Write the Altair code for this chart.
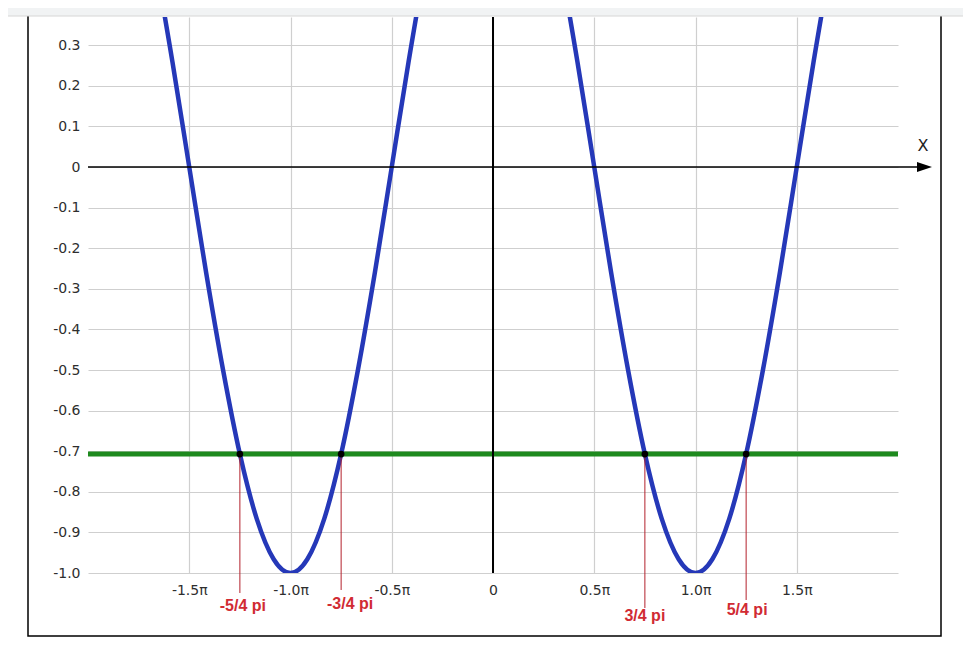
import altair as alt
import pandas as pd

# ---------------- data (x in multiples of pi) ----------------
curve_x_pi = [-2.0, -1.917, -1.833, -1.75, -1.667, -1.583, -1.5, -1.417, -1.333, -1.25,
              -1.167, -1.083, -1.0, -0.917, -0.833, -0.75, -0.667, -0.583, -0.5, -0.417,
              -0.333, -0.25, -0.167, -0.083, 0.0, 0.083, 0.167, 0.25, 0.333, 0.417, 0.5,
              0.583, 0.667, 0.75, 0.833, 0.917, 1.0, 1.083, 1.167, 1.25, 1.333, 1.417, 1.5,
              1.583, 1.667, 1.75, 1.833, 1.917, 2.0]
curve_y = [1.0, 0.966, 0.866, 0.707, 0.5, 0.259, 0.0, -0.259, -0.5, -0.707,
           -0.866, -0.966, -1.0, -0.966, -0.866, -0.707, -0.5, -0.259, 0.0, 0.259,
           0.5, 0.707, 0.866, 0.966, 1.0, 0.966, 0.866, 0.707, 0.5, 0.259, 0.0,
           -0.259, -0.5, -0.707, -0.866, -0.966, -1.0, -0.966, -0.866, -0.707, -0.5, -0.259, 0.0,
           0.259, 0.5, 0.707, 0.866, 0.966, 1.0]
tick_x_pi = [-1.5, -1.0, -0.5, 0.0, 0.5, 1.0, 1.5]
tick_y = [-1.0, -0.9, -0.8, -0.7, -0.6, -0.5, -0.4, -0.3, -0.2, -0.1, 0.0, 0.1, 0.2, 0.3]
level_y = -0.707
cross_x_pi = [-1.25, -0.75, 0.75, 1.25]
cross_labels = ["-5/4 pi", "-3/4 pi", "3/4 pi", "5/4 pi"]
x_end_pi = 2.10      # end of the X axis arrow shaft
arrow_x_pi = 2.131
axis_name_pos = (2.123, 0.052)

# ---------------- layout / style ----------------
W, H = 810, 556
X_DOM = [-2.0, 2.0]
Y_DOM = [-1.0, 0.3695]
PX_PER_Y = H / (Y_DOM[1] - Y_DOM[0])

label_dx = [3, 9, 0, 1]
label_dy = [33, 31, 43, 37]
rule_tail = [20, 17, 35, 27]

RED = "#d12b33"
BLUE = "#2538b8"
GREEN = "#1e8a1e"

xs = alt.Scale(domain=X_DOM, nice=False, zero=False)
ys = alt.Scale(domain=Y_DOM, nice=False, zero=False)

x_axis = alt.Axis(
    values=tick_x_pi, title=None, domain=False, ticks=False, grid=True,
    gridColor="#cfcfcf", gridWidth=1.2, labelPadding=10, labelFont="DejaVu Sans",
    labelFontSize=14, labelColor="#2e2e2e", labelOverlap=False, labelFlush=False,
    labelExpr="datum.value == 0 ? '0' : (datum.value < 0 ? '-' : '') + format(abs(datum.value), '.1f') + 'π'",
)
y_axis = alt.Axis(
    values=tick_y, title=None, domain=False, ticks=False, grid=True,
    gridColor="#cfcfcf", gridWidth=1.2, labelPadding=8, labelFont="DejaVu Sans",
    labelFontSize=14, labelColor="#2e2e2e", labelOverlap=False, labelFlush=False,
    labelExpr="datum.value == 0 ? '0' : (datum.value < 0 ? '-' : '') + format(abs(datum.value), '.1f')",
)


def X(f="x"):
    return alt.X(f"{f}:Q", scale=xs, axis=x_axis)


def Y(f="y"):
    return alt.Y(f"{f}:Q", scale=ys, axis=y_axis)


one = pd.DataFrame({"a": [0]})

header = alt.Chart(one).mark_rect(color="#f1f3f4").encode(
    x=alt.value(-80), x2=alt.value(875), y=alt.value(-12), y2=alt.value(-1))
header_line = alt.Chart(one).mark_rule(color="#d6d6d6", strokeWidth=1).encode(
    x=alt.value(-80), x2=alt.value(875), y=alt.value(-1))
frame = alt.Chart(one).mark_rect(fill="transparent", stroke="black", strokeWidth=1.5).encode(
    x=alt.value(-60), x2=alt.value(853), y=alt.value(-30), y2=alt.value(619))

green = alt.Chart(pd.DataFrame({"x": [X_DOM[0]], "x2": [X_DOM[1]], "y": [level_y]})).mark_rule(
    color=GREEN, strokeWidth=5).encode(x=X(), x2="x2:Q", y=Y())

xaxis_line = alt.Chart(pd.DataFrame({"x": [X_DOM[0]], "x2": [x_end_pi], "y": [0.0]})).mark_rule(
    color="black", strokeWidth=1.5).encode(x=X(), x2="x2:Q", y=Y())
yaxis_line = alt.Chart(pd.DataFrame({"x": [0.0], "y": [Y_DOM[0]], "y2": [Y_DOM[1]]})).mark_rule(
    color="black", strokeWidth=2).encode(x=X(), y=Y(), y2="y2:Q")
arrow = alt.Chart(pd.DataFrame({"x": [arrow_x_pi], "y": [0.0]})).mark_point(
    shape="M-1,-0.667L1,0L-1,0.667Z", filled=True, size=225, color="black", opacity=1
).encode(x=X(), y=Y())
xname = alt.Chart(pd.DataFrame({"x": [axis_name_pos[0]], "y": [axis_name_pos[1]], "t": ["X"]})).mark_text(
    font="DejaVu Sans", fontSize=16, color="#222222", baseline="middle", align="center"
).encode(x=X(), y=Y(), text="t:N")

curve = alt.Chart(pd.DataFrame({"x": curve_x_pi, "y": curve_y})).mark_line(
    color=BLUE, strokeWidth=4.5, interpolate="monotone", clip=True).encode(x=X(), y=Y())

rules_df = pd.DataFrame({
    "x": cross_x_pi,
    "y": [level_y] * 4,
    "y2": [Y_DOM[0] - t / PX_PER_Y for t in rule_tail],
})
red_rules = alt.Chart(rules_df).mark_rule(color="#b3202c", strokeWidth=1).encode(
    x=X(), y=Y(), y2="y2:Q")

dots = alt.Chart(pd.DataFrame({"x": cross_x_pi, "y": [level_y] * 4})).mark_circle(
    size=45, color="black", opacity=1).encode(x=X(), y=Y())

label_layers = []
for xv, lab, dx, dy in zip(cross_x_pi, cross_labels, label_dx, label_dy):
    label_layers.append(
        alt.Chart(pd.DataFrame({"x": [xv], "y": [Y_DOM[0]], "t": [lab]})).mark_text(
            font="Liberation Sans", fontSize=16, fontWeight="bold", color=RED,
            align="center", baseline="middle", dx=dx, dy=dy
        ).encode(x=X(), y=Y(), text="t:N")
    )

chart = alt.layer(
    frame, green, curve, xaxis_line, yaxis_line, arrow, xname, red_rules, dots,
    *label_layers, header, header_line
).properties(
    width=W, height=H,
    autosize=alt.AutoSizeParams(type="none"),
    padding={"left": 80, "top": 9, "right": 65, "bottom": 76},
    background="white",
).configure_view(stroke=None)

chart.save("out.html", embed_options={"renderer": "svg", "actions": False})
